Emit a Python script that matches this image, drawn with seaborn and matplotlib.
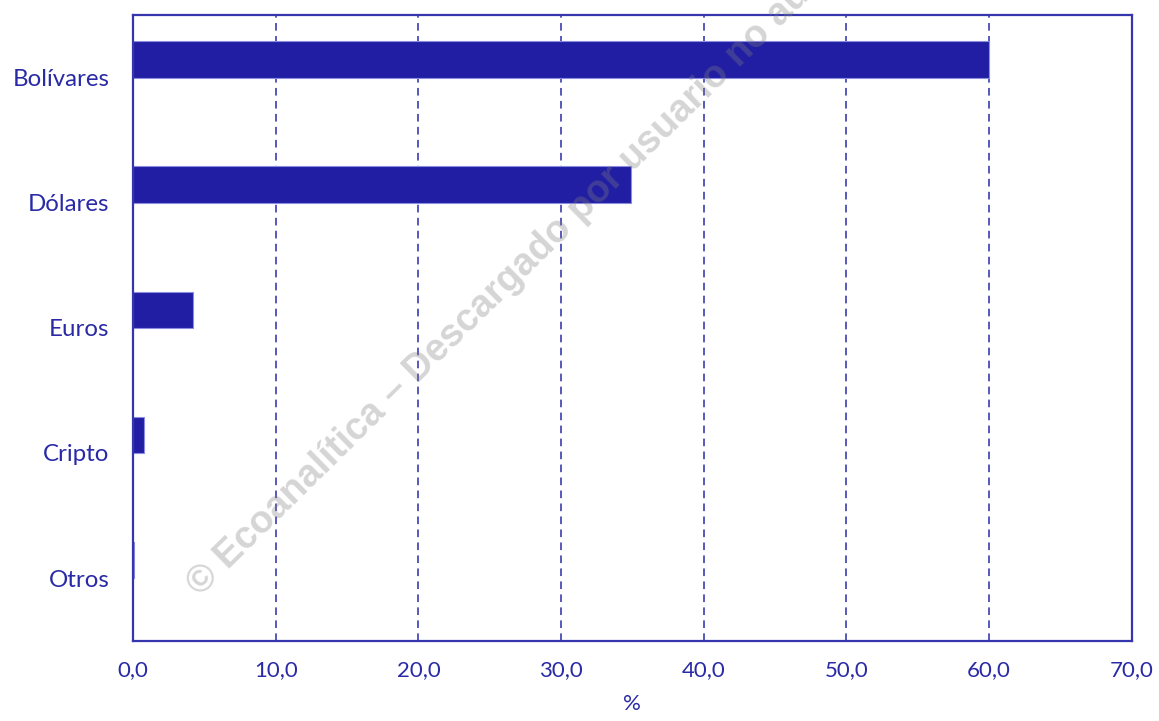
import pandas as pd
import matplotlib.pyplot as plt
import seaborn as sns

categorias = ['Bolívares', 'Dólares', 'Euros', 'Cripto', 'Otros']
porcentajes = [60.0, 34.9, 4.2, 0.8, 0.1]
xticks = [0, 10, 20, 30, 40, 50, 60, 70]
xtick_labels = ['0,0', '10,0', '20,0', '30,0', '40,0', '50,0', '60,0', '70,0']

azul = '#211EA3'
azul_texto = '#2A2AA6'

sns.set_style('white')
plt.rcParams['font.family'] = ['Lato', 'DejaVu Sans']

# second (empty) series keeps the bars in the upper half of each band
df = pd.DataFrame({
    'moneda': categorias * 2,
    'valor': porcentajes + [float('nan')] * len(categorias),
    'serie': ['a'] * len(categorias) + ['b'] * len(categorias),
})

fig = plt.figure(figsize=(11.59, 7.21), dpi=100)
ax = fig.add_axes([0.1148, 0.1114, 0.8617, 0.8678])

sns.barplot(data=df, x='valor', y='moneda', hue='serie', hue_order=['a', 'b'],
            order=categorias, palette=[azul, 'white'], saturation=1, width=0.58,
            dodge=True, edgecolor='#8C8CE0', linewidth=0.8, legend=False,
            ax=ax, zorder=2)

ax.set_xlim(0, 70)
ax.set_xticks(xticks)
ax.set_xticklabels(xtick_labels)
ax.set_xlabel('%', fontsize=16, color=azul_texto, labelpad=10)
ax.set_ylabel('')
ax.tick_params(axis='both', length=0, labelcolor=azul_texto)
ax.tick_params(axis='x', pad=14, labelsize=16)
ax.tick_params(axis='y', pad=17, labelsize=17.3)

ax.set_axisbelow(True)
ax.xaxis.grid(True, color='#2B2BA8', linestyle=(0, (5, 3.5)), linewidth=1.1, zorder=0.5)
ax.yaxis.grid(False)
for s in ax.spines.values():
    s.set_color('#3535AE')
    s.set_linewidth(1.6)

# watermark, semi-transparent over everything
ax.text(0.173, 0.172, '© Ecoanalítica – Descargado por usuario no autorizado',
        transform=fig.transFigure, rotation=44.5, rotation_mode='anchor',
        ha='left', va='baseline', fontsize=27.5, fontweight='bold',
        family='Liberation Sans', color='#808080', alpha=0.33, zorder=5,
        clip_on=False)

fig.savefig('out.png', dpi=100)
